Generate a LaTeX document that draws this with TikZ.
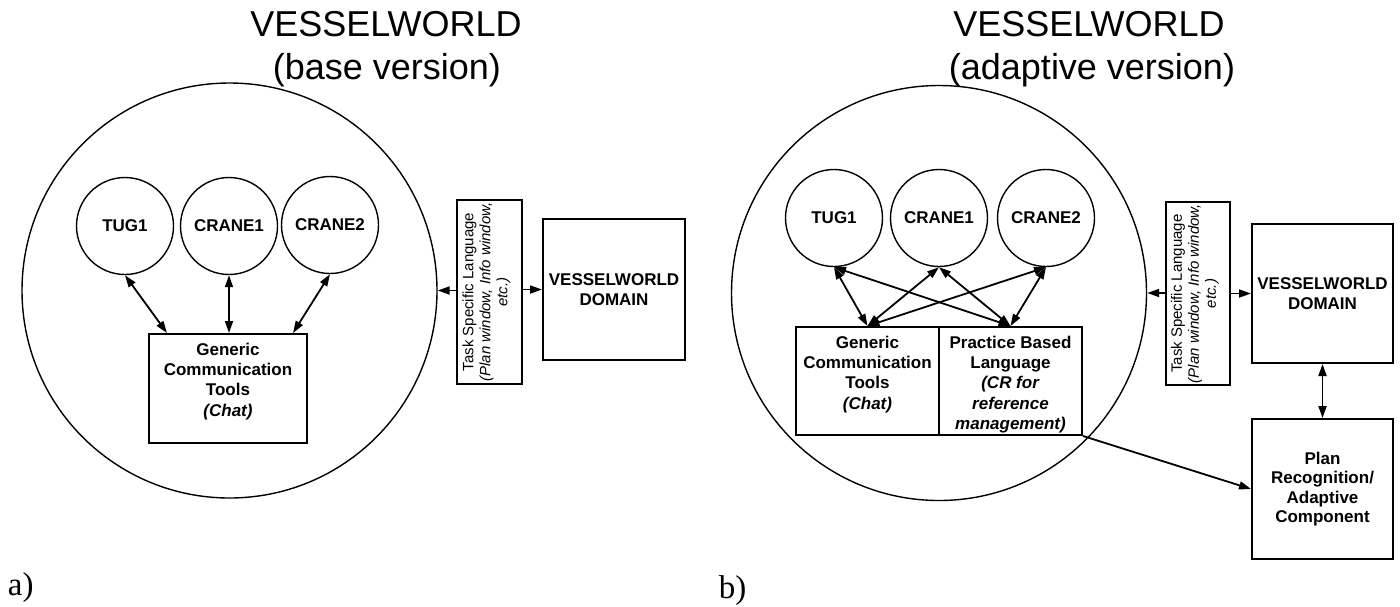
\documentclass[tikz,border=0pt]{standalone}
\usepackage{fontspec}
\setmainfont{Liberation Sans}
\newfontfamily\partfont{Liberation Serif}
\usetikzlibrary{arrows.meta}
\newcommand{\fsz}[2]{\fontsize{#1}{#2}\selectfont}

\tikzset{
    agent/.style={circle, draw, line width=1.4pt, minimum size=97pt, inner sep=0pt, font=\bfseries\fsz{17}{20}},
    world/.style={circle, draw, line width=1.4pt, minimum size=415pt, inner sep=0pt},
    box/.style={draw, line width=2pt, inner sep=0pt},
    boxtext/.style={align=center, inner sep=0pt, font=\bfseries\fsz{17}{20.3}},
    tasktext/.style={rotate=90, align=center, inner sep=0pt, font=\fsz{15}{17}},
    title/.style={anchor=base, inner sep=0pt, font=\fsz{36}{43}},
    part/.style={anchor=base west, inner sep=0pt, font=\partfont\fsz{33}{36}},
    link/.style={<->, line width=1.8pt}
}

\begin{document}
\begin{tikzpicture}[x=1pt, y=-1pt, >={Triangle[length=12pt,width=8pt]}, line width=1.8pt]
    \useasboundingbox (0,0) rectangle (1400,606);

    % a) base version
    \node[title] (ttlA1) at (386,36) {VESSELWORLD};
    \node[title] (ttlA2) at (387,79) {(base version)};
    \node[world] (worldA) at (229.5,290.5) {};
    \node[agent] (tugA) at (125,226) {TUG1}; \node[agent] (craneA1) at (229,226) {CRANE1}; \node[agent] (craneA2) at (330,225) {CRANE2};
    \node[box, minimum width=158pt, minimum height=109pt] (genA) at (228,388.5) {};
    \node[boxtext, anchor=north] (genAtxt) at ([yshift=-9pt]genA.north) {Generic\\Communication\\Tools\\\textit{(Chat)}};
    \node[box, minimum width=65pt, minimum height=184pt] (taskA) at (489.5,292) {};
    \node[tasktext] (taskAtxt) at ([xshift=-3pt]taskA.center) {Task Specific Language\\\textit{(Plan window, Info window,}\\\textit{etc.)}};
    \node[box, boxtext, minimum width=142pt, minimum height=141pt] (domA) at (614,289.5) {VESSELWORLD\\DOMAIN};

    \draw[link] (tugA.south) -- ([xshift=19pt]genA.north west);
    \draw[link] (craneA1.south) -- (craneA1.south |- genA.north);
    \draw[link] (craneA2.south) -- ([xshift=-15pt]genA.north east);
    \draw[->] (taskA.west |- worldA.east) -- (worldA.east);
    \draw[->] (taskA.east |- domA.west) -- (domA.west);
    \node[part] (labA) at (7,595) {a)};

    % b) adaptive version
    \node[title] (ttlB1) at (1089,36) {VESSELWORLD};
    \node[title] (ttlB2) at (1092,79) {(adaptive version)};
    \node[world] (worldB) at (939,293) {};
    \node[agent] (tugB) at (834,218) {TUG1}; \node[agent] (craneB1) at (939,218) {CRANE1}; \node[agent] (craneB2) at (1046,218) {CRANE2};
    \node[box, minimum width=143pt, minimum height=108pt] (genB) at (867.5,381) {};
    \node[box, minimum width=143pt, minimum height=108pt] (pblB) at (1010.5,381) {};
    \node[boxtext, anchor=north] (genBtxt) at ([yshift=-9pt]genB.north) {Generic\\Communication\\Tools\\\textit{(Chat)}};
    \node[boxtext, anchor=north] (pblBtxt) at ([yshift=-9pt]pblB.north) {Practice Based\\Language\\\textit{(CR for}\\\textit{reference}\\\textit{management)}};
    \node[box, minimum width=64pt, minimum height=183pt] (taskB) at (1198,293.5) {};
    \node[tasktext] (taskBtxt) at ([xshift=-3pt]taskB.center) {Task Specific Language\\\textit{(Plan window, Info window,}\\\textit{etc.)}};
    \node[box, boxtext, minimum width=141pt, minimum height=139pt] (domB) at (1322.5,293.5) {VESSELWORLD\\DOMAIN};
    \node[box, boxtext, minimum width=141pt, minimum height=140pt, font=\bfseries\fsz{17}{19.5}] (planB) at (1322.5,489) {Plan\\Recognition/\\Adaptive\\Component};

    \foreach \a in {tugB,craneB1,craneB2} \foreach \b in {genB,pblB} \draw[link] (\a.south) -- (\b.north);
    \draw[->] (taskB.west |- worldB.east) -- (worldB.east);
    \draw[->] (taskB.east |- domB.west) -- (domB.west);
    \draw[link] (domB) -- (planB);
    \draw[->] (pblB.south east) -- (planB.west);
    \node[part] (labB) at (718,598) {b)};
\end{tikzpicture}
\end{document}
